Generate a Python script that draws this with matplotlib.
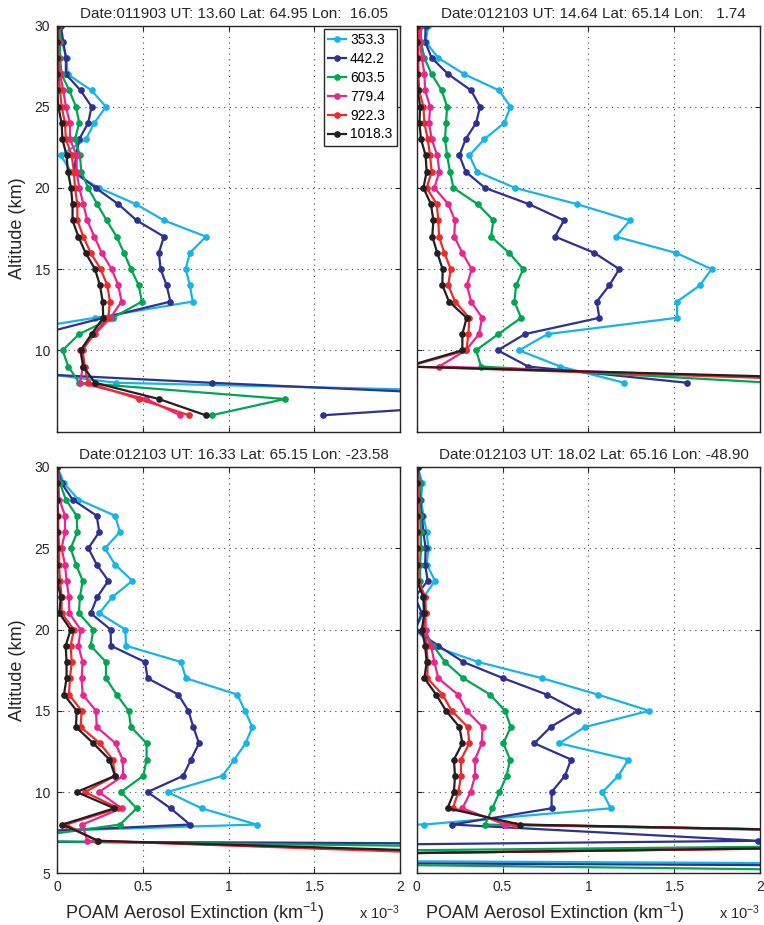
import numpy as np
import matplotlib
matplotlib.use('Agg')
import matplotlib.pyplot as plt

plt.rcParams['font.family'] = ['Liberation Sans', 'DejaVu Sans']
plt.rcParams['mathtext.fontset'] = 'custom'
plt.rcParams['mathtext.rm'] = 'Liberation Sans'
plt.rcParams['mathtext.it'] = 'Liberation Sans:italic'

# wavelengths (nm) and colours
wavelengths = ['353.3', '442.2', '603.5', '779.4', '922.3', '1018.3']
colors = ['#16B4EA', '#2E3192', '#00A651', '#EC248F', '#EE2A2B', '#231F20']

# profile titles
titles = ['Date:011903 UT: 13.60 Lat: 64.95 Lon:  16.05',
          'Date:012103 UT: 14.64 Lat: 65.14 Lon:   1.74',
          'Date:012103 UT: 16.33 Lat: 65.15 Lon: -23.58',
          'Date:012103 UT: 18.02 Lat: 65.16 Lon: -48.90']

# extinction in units of 1e-3 km^-1, one list per wavelength

# panel 1 (top left)
alt1 = [30, 29, 28, 27, 26, 25, 24, 23, 22, 21, 20, 19, 18, 17, 16, 15, 14, 13, 12, 11, 10, 9, 8, 7, 6]
ext1_353 = [0.015, 0.027, 0.054, 0.06, 0.20, 0.284, 0.216, 0.167, 0.02, 0.08, 0.243, 0.459, 0.622,
            0.868, 0.774, 0.749, 0.774, 0.79, 0.22, -0.37, -0.40, -0.40, 0.342, 4.5, np.nan]
ext1_442 = [0.02, 0.035, 0.05, 0.05, 0.136, 0.2, 0.18, 0.128, 0.109, 0.10, 0.224, 0.356, 0.463,
            0.622, 0.593, 0.603, 0.638, 0.66, 0.27, -0.10, -0.5, -1.0, 0.9, 3.0, 1.55]
ext1_603 = [0.012, 0.016, 0.016, 0.025, 0.07, 0.109, 0.128, 0.103, 0.132, 0.14, 0.18, 0.233, 0.288,
            0.346, 0.389, 0.43, 0.475, 0.494, 0.323, 0.128, 0.031, 0.064, 0.128, 1.329, 0.90]
ext1_779 = [0.006, 0.008, 0.008, 0.016, 0.035, 0.05, 0.074, 0.074, 0.113, 0.113, 0.128, 0.152, 0.175,
            0.216, 0.259, 0.317, 0.356, 0.375, 0.31, 0.22, 0.135, 0.15, 0.132, 0.52, 0.716]
ext1_922 = [0.004, 0.004, 0.006, 0.008, 0.016, 0.025, 0.045, 0.05, 0.084, 0.097, 0.103, 0.117, 0.117,
            0.152, 0.195, 0.253, 0.292, 0.307, 0.298, 0.21, 0.148, 0.16, 0.18, 0.477, 0.77]
ext1_1018 = [0.0, 0.0, 0.0, 0.0, 0.0, 0.006, 0.025, 0.03, 0.054, 0.062, 0.08, 0.089, 0.089,
             0.123, 0.165, 0.22, 0.249, 0.265, 0.268, 0.2, 0.136, 0.152, 0.22, 0.593, 0.866]

# panel 2 (top right)
alt2 = [30, 29, 28, 27, 26, 25, 24, 23, 22, 21, 20, 19, 18, 17, 16, 15, 14, 13, 12, 11, 10, 9, 8]
ext2_353 = [0.068, 0.052, 0.126, 0.278, 0.48, 0.546, 0.51, 0.394, 0.307, 0.351, 0.573, 0.934, 1.243,
            1.16, 1.51, 1.718, 1.65, 1.517, 1.517, 0.763, 0.596, 0.837, 1.21]
ext2_442 = [0.052, 0.049, 0.087, 0.184, 0.317, 0.369, 0.346, 0.285, 0.249, 0.285, 0.398, 0.654, 0.858,
            0.806, 1.035, 1.18, 1.122, 1.049, 1.064, 0.631, 0.472, 0.65, 1.577]
ext2_603 = [0.025, 0.025, 0.045, 0.087, 0.146, 0.177, 0.171, 0.165, 0.177, 0.194, 0.214, 0.355, 0.447,
            0.433, 0.538, 0.621, 0.579, 0.569, 0.608, 0.476, 0.346, 0.375, 2.07]
ext2_779 = [0.02, 0.02, 0.03, 0.045, 0.049, 0.078, 0.072, 0.087, 0.12, 0.132, 0.103, 0.184, 0.223,
            0.219, 0.266, 0.32, 0.293, 0.317, 0.381, 0.363, 0.287, 0.13, 3.0]
ext2_922 = [0.01, 0.01, 0.01, 0.01, 0.014, 0.039, 0.045, 0.064, 0.078, 0.087, 0.058, 0.117, 0.126,
            0.13, 0.161, 0.198, 0.184, 0.223, 0.307, 0.301, 0.29, -0.05, 2.9]
ext2_1018 = [0.0, 0.0, 0.0, 0.0, 0.006, 0.02, 0.016, 0.025, 0.052, 0.058, 0.039, 0.083, 0.097,
             0.091, 0.12, 0.151, 0.15, 0.188, 0.291, 0.266, 0.266, -0.06, 3.4]

# panel 3 (bottom left)
alt3 = [30, 29, 28, 27, 26, 25, 24, 23, 22, 21, 20, 19, 18, 17, 16, 15, 14, 13, 12, 11, 10, 9, 8, 7, 6]
ext3_353 = [0.0, 0.039, 0.123, 0.337, 0.366, 0.278, 0.337, 0.438, 0.321, 0.245, 0.397, 0.401, 0.722,
            0.751, 1.05, 1.095, 1.138, 1.099, 1.033, 0.965, 0.644, 0.842, 1.163, -1.98, 26.0]
ext3_442 = [0.0, 0.025, 0.089, 0.23, 0.245, 0.181, 0.23, 0.298, 0.233, 0.195, 0.311, 0.313, 0.512,
            0.527, 0.706, 0.765, 0.794, 0.827, 0.78, 0.735, 0.527, 0.661, 0.774, -1.32, 20.0]
ext3_603 = [0.0, 0.016, 0.049, 0.113, 0.117, 0.078, 0.109, 0.148, 0.132, 0.126, 0.21, 0.195, 0.284,
            0.284, 0.346, 0.416, 0.43, 0.521, 0.521, 0.502, 0.372, 0.463, 0.366, -0.32, 7.4]
ext3_779 = [0.0, 0.006, 0.012, 0.045, 0.045, 0.025, 0.045, 0.054, 0.068, 0.07, 0.136, 0.123, 0.148,
            0.142, 0.148, 0.226, 0.23, 0.34, 0.381, 0.385, 0.243, 0.375, 0.146, 0.175, 3.2]
ext3_922 = [0.0, 0.0, 0.0, 0.006, 0.006, 0.012, 0.01, 0.016, 0.025, 0.025, 0.097, 0.078, 0.084,
            0.074, 0.068, 0.142, 0.136, 0.249, 0.323, 0.337, 0.161, 0.356, 0.05, 0.23, 2.9]
ext3_1018 = [0.0, 0.0, 0.0, 0.0, 0.0, 0.0, 0.0, 0.0, 0.02, 0.012, 0.078, 0.049, 0.054,
             0.054, 0.039, 0.113, 0.109, 0.21, 0.304, 0.337, 0.113, 0.333, 0.03, 0.24, 3.4]

# panel 4 (bottom right)
alt4 = [30, 29, 28, 27, 26, 25, 24, 23, 22, 21, 20, 19, 18, 17, 16, 15, 14, 13, 12, 11, 10, 9, 8, 7, 6, 5]
ext4_353 = [0.006, 0.033, 0.025, 0.039, 0.058, 0.068, 0.058, 0.107, 0.04, 0.04, -0.01, 0.09, 0.359,
            0.732, 1.054, 1.355, 0.98, 0.831, 1.233, 1.175, 1.082, 1.13, 0.043, -30.0, -5.0, 14.0]
ext4_442 = [0.006, 0.02, 0.02, 0.03, 0.039, 0.052, 0.049, 0.064, -0.01, 0.03, -0.01, 0.126, 0.272,
            0.505, 0.757, 0.938, 0.78, 0.685, 0.899, 0.864, 0.786, 0.786, 0.208, 1.99, -7.5, 11.7]
ext4_603 = [0.006, 0.02, 0.014, 0.02, 0.025, 0.025, 0.02, 0.02, 0.039, 0.045, 0.039, 0.097, 0.165,
            0.272, 0.427, 0.515, 0.548, 0.505, 0.544, 0.524, 0.482, 0.441, 0.398, 5.5, -4.0, 4.0]
ext4_779 = [0.0, 0.01, 0.01, 0.01, 0.01, 0.01, 0.01, 0.01, 0.049, 0.052, 0.052, 0.083, 0.103,
            0.126, 0.239, 0.291, 0.384, 0.379, 0.34, 0.34, 0.314, 0.266, 0.515, 5.5, -1.8, np.nan]
ext4_922 = [0.0, 0.005, 0.005, 0.005, 0.005, 0.005, 0.005, 0.005, 0.049, 0.052, 0.039, 0.058, 0.064,
            0.062, 0.15, 0.204, 0.297, 0.307, 0.258, 0.258, 0.243, 0.21, 0.573, 5.6, -1.8, np.nan]
ext4_1018 = [0.006, 0.0, 0.0, 0.0, 0.002, 0.0, 0.003, 0.0, 0.039, 0.045, 0.03, 0.049, 0.058,
             0.045, 0.113, 0.171, 0.249, 0.266, 0.217, 0.223, 0.217, 0.18, 0.602, 5.4, -1.8, np.nan]

panels = [
    (alt1, [ext1_353, ext1_442, ext1_603, ext1_779, ext1_922, ext1_1018]),
    (alt2, [ext2_353, ext2_442, ext2_603, ext2_779, ext2_922, ext2_1018]),
    (alt3, [ext3_353, ext3_442, ext3_603, ext3_779, ext3_922, ext3_1018]),
    (alt4, [ext4_353, ext4_442, ext4_603, ext4_779, ext4_922, ext4_1018]),
]

W, H = 764, 925
fig = plt.figure(figsize=(W / 100, H / 100), dpi=100)

# axes boxes in pixels: left, top, right, bottom
boxes = [(57.3, 25.5, 400, 431.5), (416.7, 25.5, 760, 431.5),
         (57.3, 467, 400, 873.3), (416.7, 467, 760, 873.3)]

for i, (box, (alt, series)) in enumerate(zip(boxes, panels)):
    l, t, r, b = box
    ax = fig.add_axes([l / W, 1 - b / H, (r - l) / W, (b - t) / H])
    for vals, c, lab in zip(series, colors, wavelengths):
        ax.plot(vals, alt, '-o', color=c, lw=1.6, ms=3.8, mec=c, label=lab)

    ax.set_xlim(0, 2)
    ax.set_ylim(5, 30)
    ax.set_xticks([0, 0.5, 1, 1.5, 2])
    ax.set_xticklabels(['0', '0.5', '1', '1.5', '2'])
    if i < 2:
        ax.set_yticks([10, 15, 20, 25, 30])
        ax.set_xticklabels([])
    else:
        ax.set_yticks([5, 10, 15, 20, 25, 30])
    if i % 2 == 1:
        ax.set_yticklabels([])

    ax.grid(True, linestyle=(0, (1, 4)), color='#444444', lw=0.8)
    ax.tick_params(direction='in', top=True, right=True, length=3.5, width=0.8,
                   labelsize=10, pad=5, colors='#262626')
    for s in ax.spines.values():
        s.set_linewidth(1.0)
        s.set_color('#262626')

    ax.set_title(titles[i], fontsize=11, pad=5.5, x=0.515, color='#262626')

    if i % 2 == 0:
        ax.set_ylabel('Altitude (km)', fontsize=13, color='#262626')
        ax.yaxis.set_label_coords(-0.092, 0.5)
    if i >= 2:
        ax.text(0.40, -0.098, 'POAM Aerosol Extinction (km$^{-1}$)', transform=ax.transAxes,
                ha='center', va='center', fontsize=13, color='#262626')
        ax.text(1.0, -0.098, 'x 10$^{-3}$', transform=ax.transAxes,
                ha='right', va='center', fontsize=10.5, color='#262626')

    if i == 0:
        leg = ax.legend(loc='upper right', fontsize=10, borderaxespad=0.25, handlelength=1.3,
                        handletextpad=0.3, labelspacing=0.35, borderpad=0.3,
                        fancybox=False, framealpha=1, edgecolor='#262626')
        leg.get_frame().set_linewidth(1.0)

fig.savefig('out.png', dpi=100)
